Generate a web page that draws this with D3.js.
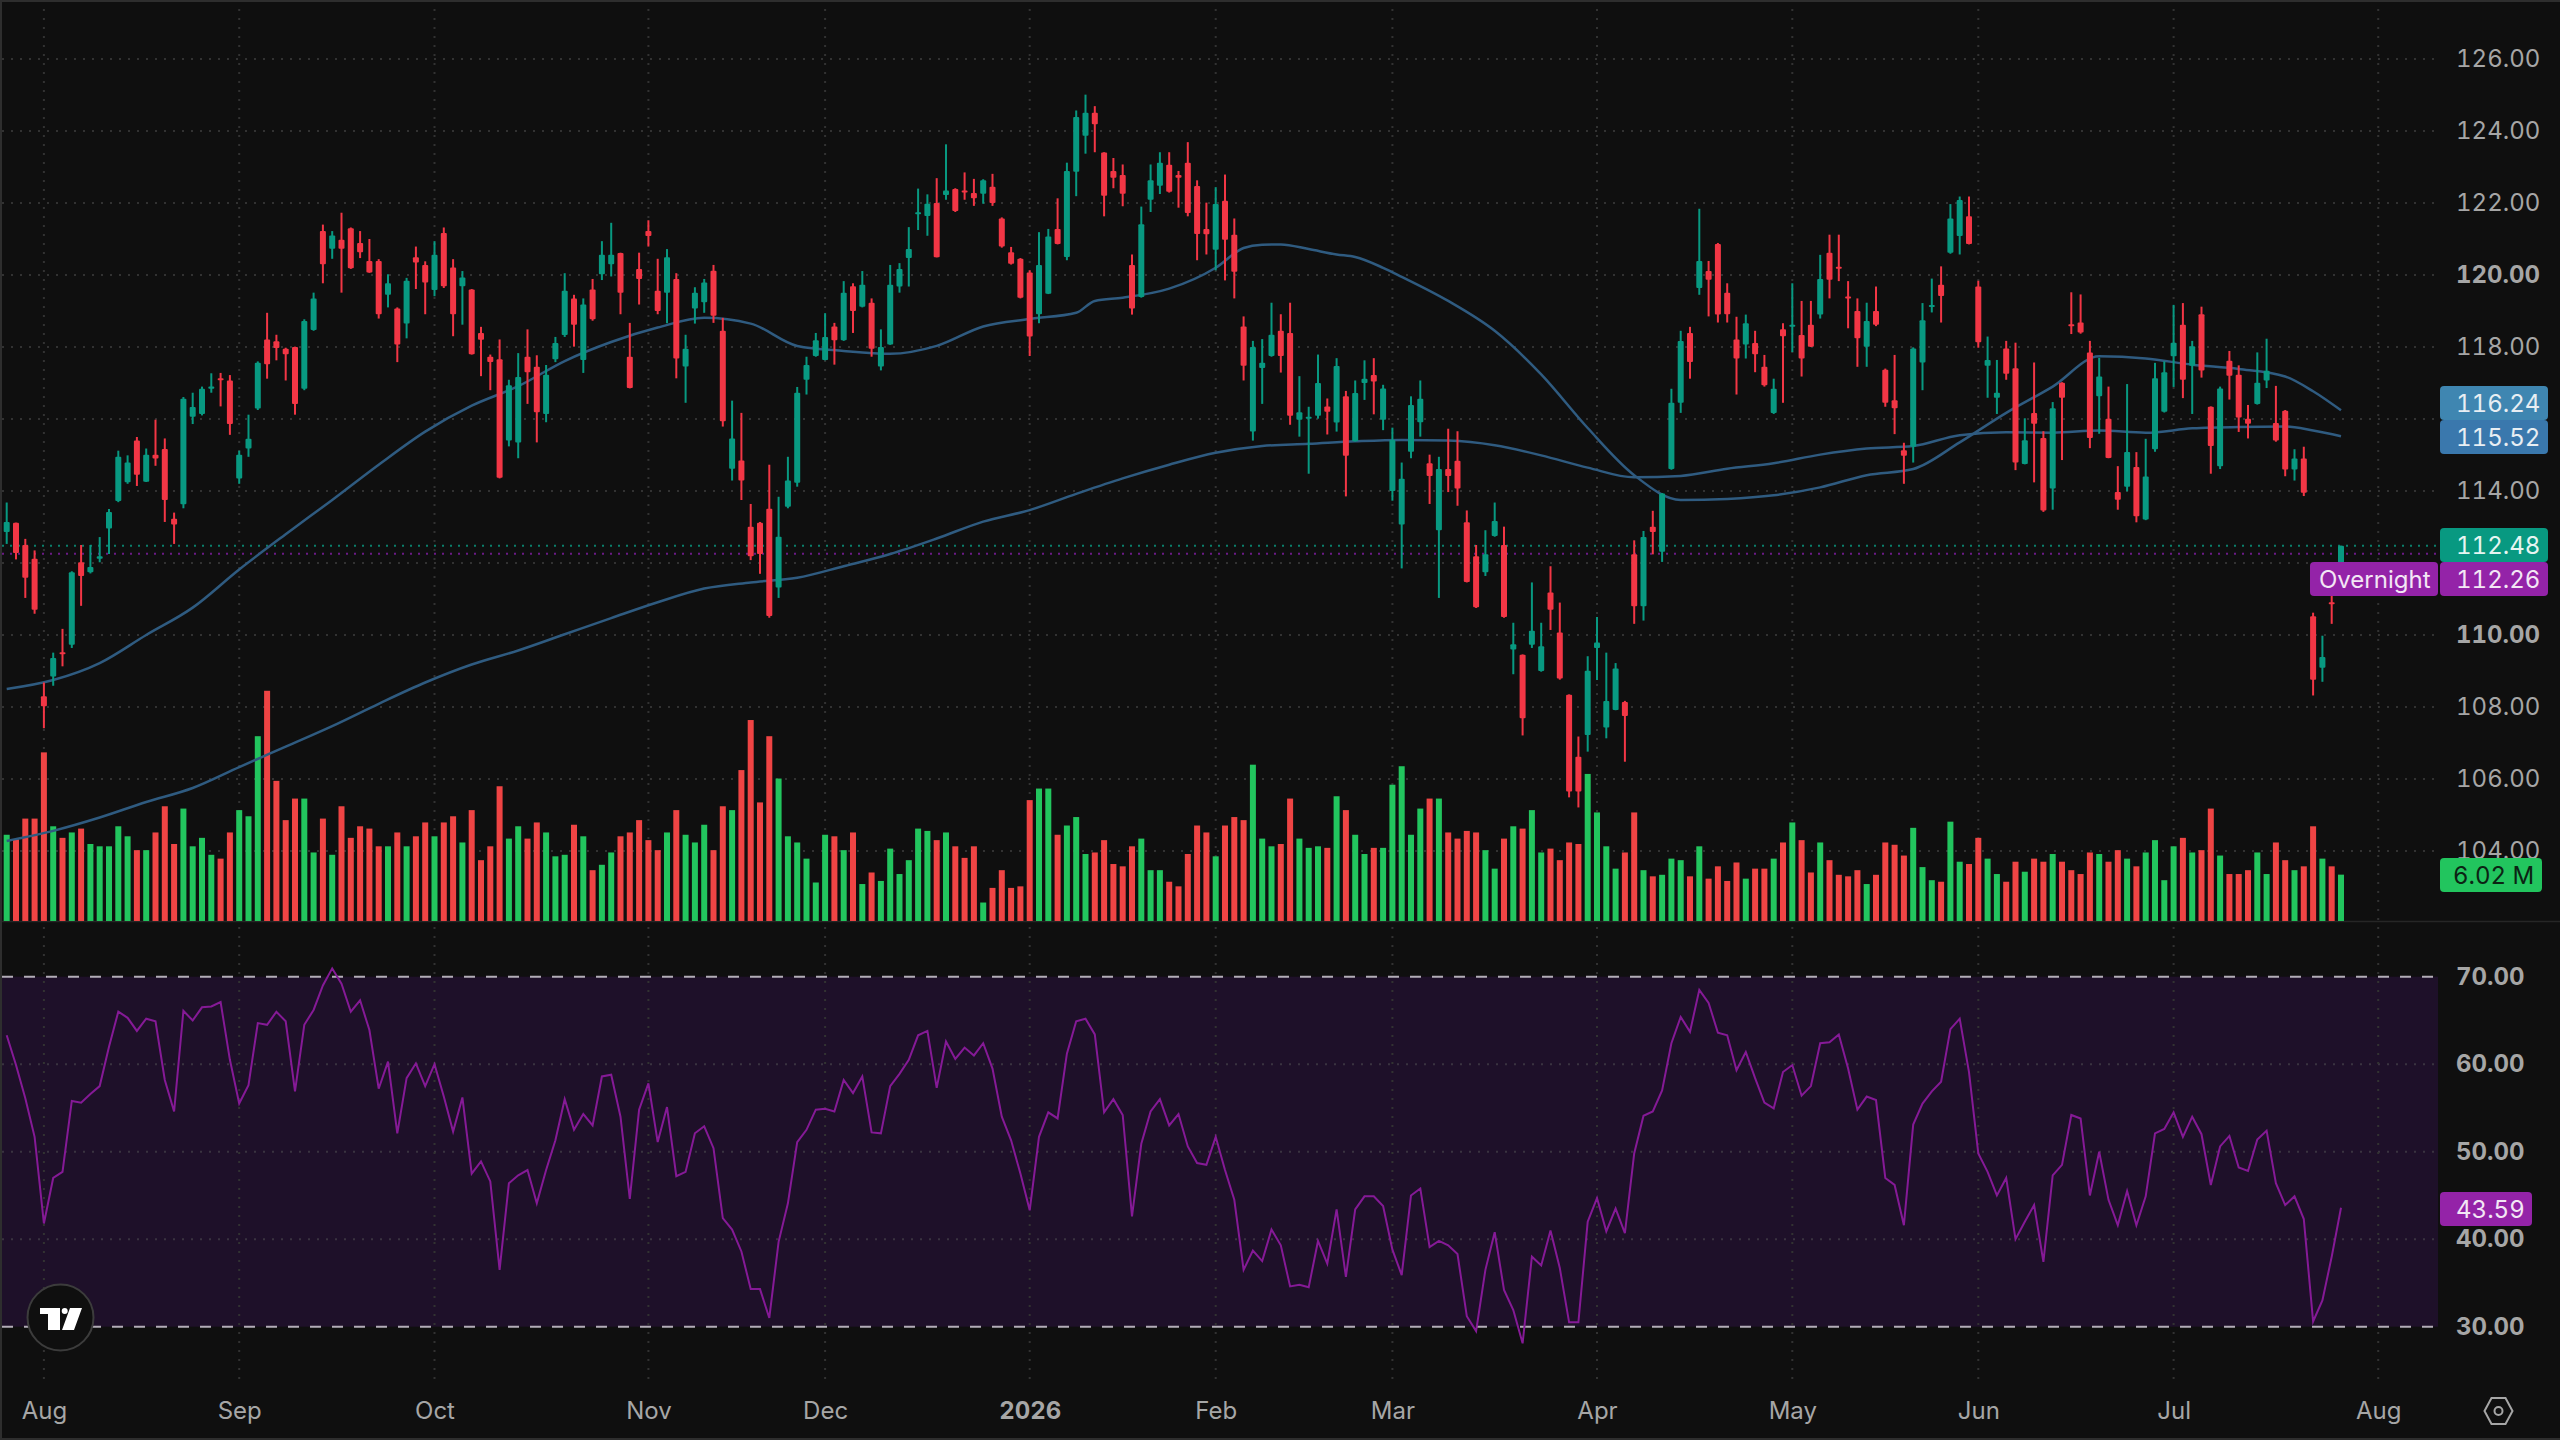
<!DOCTYPE html>
<html>
<head>
<meta charset="utf-8">
<title>Daily candles with volume and RSI</title>
<script src="https://cdn.jsdelivr.net/npm/d3@7"></script>
<style>
  html, body { margin: 0; padding: 0; background: #0f0f0f; }
  svg { display: block; }
  text { font-family: Inter, "Noto Sans", sans-serif; font-feature-settings: "tnum"; font-variant-numeric: tabular-nums; }
</style>
</head>
<body>
<svg id="chart" width="2560" height="1440"></svg>
<script>
// Daily OHLC, one value per session
const opens = [
112.86,113.12,112.50,112.12,108.30,108.85,109.52,109.73,112.02,111.74,
112.12,112.96,113.72,114.24,115.40,114.26,115.01,115.17,113.23,113.63,
116.06,116.14,116.84,117.13,117.07,114.35,115.18,116.29,118.21,118.16,
117.95,118.00,116.84,118.47,121.22,120.73,120.98,121.30,120.89,120.39,
120.39,119.45,119.07,118.65,120.49,120.28,119.58,121.17,120.21,119.69,
119.60,118.39,117.73,117.66,115.40,115.35,117.73,117.45,116.14,117.66,
118.33,119.35,117.64,119.60,120.02,120.30,120.61,117.73,120.17,121.22,
119.56,119.51,119.89,117.46,119.07,119.24,120.12,118.45,114.62,114.85,
113.01,113.12,113.51,111.32,113.56,114.23,117.09,117.75,117.64,118.57,
118.19,119.69,119.12,119.23,117.46,118.07,119.68,120.47,121.70,121.64,
122.00,122.22,122.39,122.35,122.28,122.26,122.45,121.57,120.63,120.45,
120.07,118.91,119.48,121.28,120.50,122.87,123.87,124.51,123.40,122.89,
122.78,120.28,119.39,122.09,122.48,123.06,122.78,123.12,122.47,121.28,
120.70,122.06,121.12,118.57,115.65,117.42,117.75,118.45,118.39,115.98,
116.01,116.09,116.35,115.90,116.63,115.38,117.00,117.22,115.98,114.00,
113.07,115.09,115.91,114.77,112.91,114.61,114.84,113.13,112.19,111.74,
112.75,112.50,109.60,109.45,109.73,109.00,111.18,110.07,108.34,106.62,
107.22,109.64,107.43,107.92,108.14,112.24,110.80,113.01,112.31,114.61,
116.45,118.39,119.64,120.11,120.86,119.51,118.21,118.07,118.11,117.45,
116.17,118.49,118.58,118.33,118.62,118.90,120.62,120.23,119.40,119.00,
118.01,119.00,117.37,116.52,115.13,115.23,117.57,119.12,119.73,120.62,
121.08,121.63,119.68,117.48,116.59,117.96,117.41,114.75,116.17,115.47,
114.07,117.01,118.63,118.68,117.85,116.63,116.01,113.97,114.12,114.67,
113.21,115.16,116.20,117.74,118.62,117.48,118.91,116.34,114.69,117.62,
117.23,116.01,116.42,117.07,115.89,116.23,114.60,114.90,110.52,109.09,
110.91,111.40];

const highs = [
113.68,113.12,112.67,112.35,108.68,109.51,110.17,111.77,112.50,112.50,
112.72,113.50,115.12,114.99,115.50,115.18,115.98,115.46,113.40,116.61,
116.73,116.90,117.27,117.28,117.22,115.12,116.12,117.60,118.95,118.34,
117.98,118.01,118.77,119.51,121.40,121.22,121.73,121.32,121.22,121.00,
120.44,120.02,119.10,119.92,120.79,120.38,120.94,121.32,120.44,120.11,
119.61,118.56,117.79,118.21,117.09,117.83,118.49,117.77,117.50,118.28,
120.05,119.45,119.35,119.89,120.94,121.45,120.62,118.67,120.62,121.52,
120.45,120.72,120.05,118.34,119.66,119.89,120.28,118.81,116.51,116.17,
113.64,113.14,114.73,113.84,114.95,116.89,117.73,118.39,118.94,118.67,
119.83,119.77,120.11,119.35,118.49,120.28,120.33,121.33,122.40,122.24,
122.69,123.63,122.41,122.85,122.67,122.66,122.81,121.60,120.78,120.47,
120.13,121.19,121.28,122.13,123.12,124.57,125.01,124.69,123.41,123.25,
123.07,120.57,121.90,123.07,123.41,123.41,122.89,123.69,122.63,122.01,
122.44,122.79,121.57,118.85,118.17,118.22,119.23,118.91,119.23,117.19,
116.34,117.79,116.57,117.69,116.78,117.07,117.63,117.69,116.95,115.76,
114.79,116.63,117.07,115.01,114.95,115.73,115.66,113.46,112.50,112.91,
113.68,113.01,110.34,109.46,111.46,110.34,111.91,110.90,108.35,107.18,
109.41,110.50,109.51,109.22,108.17,112.63,112.89,113.45,113.94,116.84,
118.45,118.56,121.84,120.39,120.89,119.77,118.84,118.90,118.45,117.78,
117.12,118.66,119.77,119.28,119.28,120.56,121.12,121.12,119.83,119.35,
119.23,119.68,117.40,117.78,115.34,117.99,119.22,119.90,120.24,121.97,
122.18,122.18,119.84,118.29,117.64,118.17,118.12,116.02,117.57,115.66,
116.47,117.02,119.52,119.46,118.17,117.70,116.90,114.69,116.97,115.08,
115.45,117.56,117.60,119.17,119.22,118.17,119.12,116.35,116.90,117.89,
117.49,116.39,117.85,118.23,116.92,116.25,115.16,115.23,110.62,109.98,
111.36,112.48];

const lows = [
112.53,112.10,111.03,110.59,107.41,108.59,109.13,109.64,110.81,111.71,
112.02,112.25,113.69,114.20,114.14,114.25,114.70,113.14,112.53,113.52,
115.86,116.10,116.73,116.35,115.56,114.20,114.95,116.25,117.12,117.63,
117.07,116.12,116.80,118.45,119.77,120.45,119.51,120.17,120.47,120.06,
118.79,119.10,117.58,118.24,119.61,118.91,119.41,119.64,118.30,118.62,
117.79,117.19,116.80,114.35,115.24,114.91,116.42,115.35,115.91,117.58,
118.28,118.01,117.28,118.73,119.86,119.96,118.91,116.85,119.18,120.79,
118.91,118.66,117.13,116.45,118.65,118.95,118.67,115.79,114.29,113.75,
112.08,111.70,110.48,111.03,113.52,114.12,116.68,117.73,117.63,117.51,
118.17,118.39,119.10,117.73,117.35,118.06,119.51,119.68,121.25,121.09,
120.49,122.09,121.75,122.09,121.92,121.98,121.92,120.76,120.29,119.35,
117.75,118.66,119.47,120.85,120.41,122.19,123.37,123.41,121.63,122.41,
121.91,118.90,119.37,121.75,122.25,122.29,121.87,121.63,120.41,120.57,
120.13,119.85,119.35,117.07,115.40,116.42,117.73,117.29,115.84,115.51,
114.48,116.01,115.57,115.65,113.85,115.37,116.53,116.13,115.69,113.73,
111.85,114.91,115.51,113.64,111.03,113.97,113.59,111.46,110.75,111.64,
112.73,110.48,108.91,107.21,109.64,108.98,110.14,108.76,105.49,105.21,
106.76,108.75,107.13,107.91,106.48,110.31,110.40,112.24,112.03,114.59,
116.17,117.12,119.45,118.85,118.68,118.68,116.68,117.68,117.30,116.90,
116.14,116.45,117.86,117.18,118.00,118.79,119.35,119.83,118.52,117.45,
117.45,118.58,116.34,115.58,114.20,114.79,116.80,118.96,118.68,120.59,
120.57,120.85,117.98,116.59,116.14,117.09,114.58,114.74,114.24,113.42,
113.48,114.86,118.36,118.37,115.19,115.59,114.91,113.48,113.99,113.13,
113.19,115.09,116.18,116.89,116.58,116.14,117.15,114.48,114.61,116.54,
115.64,115.46,116.40,116.86,115.37,114.41,114.29,113.86,108.32,108.70,
110.31,111.20];

const closes = [
113.14,112.28,111.59,110.70,108.02,109.36,109.47,111.74,111.64,111.89,
112.19,113.42,114.95,114.79,114.45,115.01,114.90,113.75,113.07,116.56,
116.33,116.84,116.90,117.09,115.86,115.01,115.45,117.56,117.52,117.97,
117.80,116.42,118.72,119.35,120.30,121.10,120.73,120.19,120.63,120.07,
118.91,119.77,118.07,119.84,120.35,119.79,120.56,119.69,118.91,119.93,
117.80,118.20,117.58,114.37,116.94,117.17,117.30,116.19,117.23,118.11,
119.56,118.62,119.18,118.77,120.56,120.56,119.51,116.86,119.89,121.08,
119.00,120.49,117.68,117.95,119.51,119.79,118.87,115.94,115.46,114.29,
112.19,112.25,110.53,112.73,114.29,116.73,117.50,118.19,118.28,118.19,
119.51,119.00,119.73,117.95,118.00,119.73,120.17,120.72,121.74,121.98,
120.49,122.35,121.78,122.32,122.13,122.63,122.00,120.79,120.31,119.37,
118.29,120.28,121.07,120.86,122.89,124.39,124.51,124.19,122.20,122.70,
122.26,119.07,121.41,122.63,123.12,122.31,122.70,121.72,121.14,121.13,
121.97,120.98,120.09,117.48,118.00,117.56,118.34,117.75,116.09,116.19,
116.06,117.00,116.20,117.47,114.98,116.72,117.12,117.04,116.85,115.42,
114.34,116.39,116.56,114.42,114.61,114.42,114.07,111.47,110.77,112.24,
113.17,110.50,109.74,107.69,110.12,109.69,110.70,108.79,105.65,105.65,
109.01,109.79,108.17,109.07,107.75,110.80,112.72,112.86,113.93,116.45,
118.17,117.58,120.39,119.87,118.90,118.91,117.68,118.66,117.80,116.94,
116.84,118.30,118.62,117.68,118.01,119.89,119.87,120.19,119.36,118.24,
118.72,118.62,116.45,116.30,114.98,117.96,118.74,119.17,119.42,121.57,
122.08,120.86,118.13,117.64,116.73,117.26,114.79,115.41,115.87,113.46,
116.30,116.59,118.58,118.40,115.47,117.18,114.92,113.76,115.08,113.30,
114.40,117.13,117.30,118.12,117.09,118.02,117.35,115.25,116.85,117.20,
116.04,115.87,117.01,117.34,115.40,114.60,114.90,113.95,108.76,109.39,
110.86,112.48];

// Session volume in millions and its bar colour (G up, R down)
const volumes = [
11.2,10.6,13.3,13.3,21.9,12.3,10.8,11.5,12.0,10.0,
9.7,9.7,12.3,11.0,9.2,9.2,11.5,14.9,10.0,14.6,
9.7,10.8,8.6,8.1,11.5,14.4,13.6,24.0,29.9,18.2,
13.1,15.9,15.9,8.9,13.3,8.6,14.9,10.8,12.3,12.0,
9.7,9.7,11.5,9.7,11.0,12.8,11.0,12.8,13.6,10.2,
14.4,7.9,9.7,17.5,10.7,12.3,10.7,12.8,11.5,8.4,
8.6,12.5,11.0,6.6,7.3,8.9,11.0,11.5,13.1,10.5,
9.2,11.5,14.4,11.2,10.2,12.5,9.2,14.9,14.4,19.6,
26.1,15.4,24.0,18.5,11.0,10.2,8.1,5.0,11.2,11.0,
9.2,11.5,4.8,6.3,5.2,9.4,6.1,7.9,12.0,11.7,
10.5,11.5,9.7,8.2,9.7,2.4,4.3,6.6,4.3,4.5,
15.7,17.2,17.2,11.2,12.4,13.5,8.7,8.9,10.5,7.4,
7.1,9.7,10.7,6.6,6.6,5.1,4.5,8.7,12.4,11.5,
8.4,12.4,13.5,13.1,20.3,10.7,9.7,10.0,15.9,10.7,
9.5,9.7,9.5,16.2,14.4,11.2,8.7,9.5,9.5,17.7,
20.1,11.2,14.6,15.9,15.9,11.5,10.7,11.7,11.5,9.2,
6.8,10.7,12.3,12.0,14.4,8.9,9.4,7.9,10.2,10.0,
19.1,14.1,9.7,6.8,8.9,14.1,6.6,5.8,6.0,8.1,
7.9,5.8,9.7,5.5,7.1,5.2,7.6,5.5,6.8,6.8,
8.1,10.2,12.8,10.5,6.3,10.2,7.9,6.0,5.8,6.6,
4.8,6.0,10.2,9.9,8.5,12.1,7.0,5.3,5.1,12.9,
7.7,7.4,10.8,8.1,6.1,5.1,7.7,6.4,8.1,7.7,
8.7,7.7,6.6,6.1,8.9,8.7,7.7,9.2,8.1,7.1,
8.9,10.5,5.3,9.7,10.8,8.9,9.2,14.6,8.5,6.1,
6.1,6.6,8.9,6.1,10.2,7.9,6.6,7.1,12.3,8.1,
7.1,6.02];

const volumeDirections =
  "GRRRRGRGRG" + "GGGGRGRRRG" + "GGGRRGGGRR" + "RRGGRGRRRR" + "RGRGRRGRRG" +
  "RRRRGGRRGG" + "GRGRGGRRRR" + "RGRGGGRRGR" + "RRRGGGGGGR" + "GRGRGGGGGG" +
  "RGRRRGRRRR" + "RGGRGGGRRR" + "RRGGGRRRRR" + "GRRRGGGRRG" + "GGRGRGGRGG" +
  "GGGRGRRRRG" + "GRGRGGRRRR" + "GGGGRRGRGG" + "GRGRRRRGRR" + "GRGRRGRRRR" +
  "GRRRRGGGRG" + "GRRGGRRGRR" + "GRRRRGRRGR" + "GGGGRGRRGR" + "RRGGRRGRRG" + "RG";

// Relative strength index per session
const rsiValues = [
63.3,59.9,56.1,51.7,41.8,47.0,47.7,55.8,55.6,56.6,
57.5,62.0,66.0,65.3,63.8,65.2,64.9,58.2,54.6,66.1,
65.0,66.5,66.6,67.1,60.5,55.5,57.6,64.7,64.5,66.0,
64.9,56.9,64.5,66.2,69.0,70.95,69.2,66.0,67.3,63.9,
57.2,60.3,52.1,58.4,60.1,57.5,60.0,56.3,52.3,56.2,
47.5,48.9,46.6,36.5,46.4,47.3,47.9,44.1,47.9,51.3,
56.0,52.5,54.3,53.0,58.6,58.8,54.0,44.6,54.8,57.8,
51.1,55.1,47.2,47.7,52.1,52.9,50.4,42.4,41.1,38.6,
34.3,34.3,31.0,39.7,44.1,51.1,52.5,54.8,54.9,54.6,
58.2,56.7,58.6,52.2,52.1,57.5,58.9,60.5,63.3,63.8,
57.3,62.6,60.6,61.9,61.0,62.4,59.5,54.0,51.3,47.5,
43.3,51.7,54.5,53.8,61.2,64.9,65.2,63.4,54.5,56.0,
54.2,42.6,50.9,54.6,56.0,53.0,54.3,50.6,48.7,48.5,
51.7,47.9,44.5,36.5,38.7,37.5,41.1,39.3,34.6,34.8,
34.5,39.8,37.2,43.4,35.7,43.4,44.9,44.9,43.8,38.8,
35.9,45.0,45.8,39.1,39.8,39.3,38.3,31.2,29.5,36.5,
40.8,34.2,31.9,28.1,38.0,37.0,41.0,36.7,30.5,30.5,
42.0,44.7,40.9,43.5,40.7,49.8,54.1,54.6,57.0,62.4,
65.4,63.7,68.5,67.0,63.6,63.3,59.3,61.4,58.4,55.6,
54.95,59.1,59.9,56.4,57.5,62.4,62.5,63.4,59.5,54.8,
56.3,55.9,47.0,46.2,41.6,53.1,55.5,56.9,58.0,64.0,
65.2,59.1,49.8,47.7,45.0,47.0,40.0,42.0,43.9,37.4,
47.3,48.5,54.2,53.8,45.0,50.0,44.5,41.6,45.5,41.6,
44.9,52.1,52.6,54.5,51.7,54.0,52.0,46.2,50.6,51.8,
48.2,47.8,51.4,52.4,46.4,43.9,44.9,42.3,30.6,33.0,
38.0,43.59];

// Moving averages, sampled at the listed session numbers
const fastIndex = [0,5,10,15,20,25,30,35,40,45,50,55,60,65,70,75,80,85,90,95,100,105,110,115,117,120,125,130,133,135,137,140,143,145,148,150,155,160,165,170,175,180,185,190,195,200,205,210,215,220,225,230,235,240,245,248,251];
const fastAverage = [108.50,108.75,109.22,110.00,110.76,111.82,112.80,113.75,114.73,115.65,116.37,116.91,117.61,118.14,118.54,118.81,118.65,118.03,117.89,117.81,118.03,118.57,118.78,118.95,119.28,119.37,119.62,120.20,120.75,120.84,120.85,120.72,120.57,120.50,120.20,119.95,119.28,118.45,117.24,115.75,114.44,113.75,113.78,113.88,114.10,114.44,114.61,115.35,116.17,116.90,117.74,117.68,117.51,117.39,117.18,116.77,116.24];
const slowIndex = [0,5,10,15,20,25,30,35,40,45,50,55,60,65,70,75,80,85,90,95,100,105,110,115,120,125,130,135,140,145,150,155,160,165,170,175,180,185,190,195,200,205,210,215,220,225,230,235,240,245,248,251];
const slowAverage = [104.28,104.56,104.93,105.36,105.75,106.33,106.90,107.47,108.09,108.68,109.18,109.57,110.02,110.47,110.91,111.29,111.46,111.59,111.91,112.25,112.68,113.15,113.47,113.92,114.35,114.73,115.06,115.25,115.31,115.38,115.42,115.40,115.27,114.99,114.65,114.38,114.42,114.62,114.77,115.01,115.18,115.25,115.55,115.63,115.62,115.68,115.62,115.74,115.78,115.79,115.68,115.52];

// Axis ticks and labels
const priceTicks = [104,106,108,110,112,114,116,118,120,122,124,126];
const priceLabelTicks = [104,106,108,110,114,118,120,122,124,126];
const rsiTicks = [30,40,50,60,70];
const monthIndex = [4,25,46,69,88,110,130,149,171,192,212,233,255];
const monthLabels = ["Aug","Sep","Oct","Nov","Dec","2026","Feb","Mar","Apr","May","Jun","Jul","Aug"];

const overnightPrice = 112.26;
const sessionClose = closes[closes.length - 1];

const plotRight = 2438;
const labelLeft = 2456;
const gridColor = "#323232";
const axisColor = "#a6a6a6";
const upColor = "#089981", downColor = "#f23645";
const volUp = "#22c55e", volDown = "#ef4444";
const maColor = "#2f5b80";

const x = d3.scaleLinear().domain([0, 251]).range([6.7, 2341]);
const y = d3.scaleLinear().domain([104, 126]).range([851, 59]);
const yVol = d3.scaleLinear().domain([0, 10]).range([921, 844]);
const yRsi = d3.scaleLinear().domain([30, 70]).range([1326.7, 976.7]);

const svg = d3.select("#chart");
svg.append("rect").attr("width", 2560).attr("height", 1440).attr("fill", "#0f0f0f");

// RSI band
svg.append("rect")
  .attr("x", 0).attr("width", plotRight)
  .attr("y", yRsi(70)).attr("height", yRsi(30) - yRsi(70))
  .attr("fill", "#1e1029");

// Grid
const grid = svg.append("g").attr("stroke", gridColor).attr("stroke-width", 2).attr("stroke-dasharray", "2 7");
grid.selectAll(".h").data(priceTicks).join("line")
  .attr("x1", 2).attr("x2", plotRight).attr("y1", d => y(d)).attr("y2", d => y(d));
grid.selectAll(".r").data(rsiTicks.filter(d => d !== 30 && d !== 70)).join("line")
  .attr("class", "r").attr("stroke", "#3a3340")
  .attr("x1", 2).attr("x2", plotRight).attr("y1", d => yRsi(d)).attr("y2", d => yRsi(d));
grid.selectAll(".v").data(monthIndex).join("line")
  .attr("class", "v")
  .attr("x1", d => x(d)).attr("x2", d => x(d)).attr("y1", 0).attr("y2", 1380);

// Pane separator
svg.append("line").attr("x1", 0).attr("x2", 2560).attr("y1", 921.5).attr("y2", 921.5)
  .attr("stroke", "#262626").attr("stroke-width", 1.5);

// Volume
const bars = d3.range(closes.length);
svg.append("g").selectAll("rect").data(bars).join("rect")
  .attr("x", i => x(i) - 3).attr("width", 6)
  .attr("y", i => yVol(volumes[i]))
  .attr("height", i => yVol(0) - yVol(volumes[i]))
  .attr("fill", i => volumeDirections[i] === "G" ? volUp : volDown);

// Last and overnight price lines
svg.append("line").attr("x1", 2).attr("x2", plotRight)
  .attr("y1", y(sessionClose)).attr("y2", y(sessionClose))
  .attr("stroke", "#0b7f6b").attr("stroke-width", 2).attr("stroke-dasharray", "2 6");
svg.append("line").attr("x1", 2).attr("x2", plotRight)
  .attr("y1", y(overnightPrice)).attr("y2", y(overnightPrice))
  .attr("stroke", "#6b1b86").attr("stroke-width", 2).attr("stroke-dasharray", "2 6");

// Moving averages
const maLine = d3.line().x(d => x(d[0])).y(d => y(d[1])).curve(d3.curveMonotoneX);
[[fastIndex, fastAverage], [slowIndex, slowAverage]].forEach(([idx, vals]) => {
  svg.append("path").datum(idx.map((k, j) => [k, vals[j]]))
    .attr("d", maLine).attr("fill", "none")
    .attr("stroke", maColor).attr("stroke-width", 2.5);
});

// Candles
const candles = svg.append("g").selectAll("g").data(bars).join("g")
  .attr("fill", i => closes[i] >= opens[i] ? upColor : downColor);
candles.append("rect")
  .attr("x", i => x(i) - 1).attr("width", 2)
  .attr("y", i => y(highs[i]))
  .attr("height", i => y(lows[i]) - y(highs[i]));
candles.append("rect")
  .attr("x", i => x(i) - 3).attr("width", 6).attr("rx", 1)
  .attr("y", i => y(Math.max(opens[i], closes[i])))
  .attr("height", i => Math.max(2, Math.abs(y(opens[i]) - y(closes[i]))));

// RSI limits and line
svg.selectAll(".limit").data([70, 30]).join("line")
  .attr("class", "limit")
  .attr("x1", 2).attr("x2", plotRight)
  .attr("y1", d => yRsi(d)).attr("y2", d => yRsi(d))
  .attr("stroke", "#b3adb8").attr("stroke-width", 2).attr("stroke-dasharray", "11 11");
svg.append("path").datum(rsiValues)
  .attr("d", d3.line().x((d, i) => x(i)).y(d => yRsi(d)))
  .attr("fill", "none").attr("stroke", "#851a96").attr("stroke-width", 2);

// Price axis labels; 112 and 116 sit under the value tags
const labelWeight = d => d % 10 === 0 ? 700 : 400;
const priceAxis = d3.axisRight(y).tickValues(priceLabelTicks).tickSize(0).tickPadding(0).tickFormat(d3.format(".2f"));
const priceG = svg.append("g").attr("transform", `translate(${labelLeft},0)`).call(priceAxis);
const rsiAxis = d3.axisRight(yRsi).tickValues(rsiTicks).tickSize(0).tickPadding(0).tickFormat(d3.format(".2f"));
const rsiG = svg.append("g").attr("transform", `translate(${labelLeft},0)`).call(rsiAxis);
[priceG, rsiG].forEach(g => {
  g.select(".domain").remove();
  g.selectAll("text")
    .attr("font-family", "Inter").attr("font-size", 24)
    .attr("fill", axisColor)
    .attr("font-weight", labelWeight);
});

// Time axis labels
const monthAxis = d3.axisBottom(x).tickValues(monthIndex).tickSize(0).tickPadding(0)
  .tickFormat((d, i) => monthLabels[i]);
const monthG = svg.append("g").attr("transform", "translate(0,1402)").call(monthAxis);
monthG.select(".domain").remove();
monthG.selectAll("text")
  .attr("font-family", "Inter").attr("font-size", 24)
  .attr("fill", axisColor)
  .attr("font-weight", (d, i) => monthLabels[i] === "2026" ? 700 : 400);

// Value tags on the price scale
function tag(left, width, top, height, fill, label, textFill, textX) {
  svg.append("rect").attr("x", left).attr("y", top).attr("width", width).attr("height", height)
    .attr("rx", 4).attr("fill", fill);
  svg.append("text").attr("x", textX).attr("y", top + height / 2)
    .attr("dy", "0.36em").attr("font-size", 24).attr("fill", textFill).text(label);
}
const fastLast = fastAverage[fastAverage.length - 1];
const slowLast = slowAverage[slowAverage.length - 1];
const rsiLast = rsiValues[rsiValues.length - 1];
const volumeLast = volumes[volumes.length - 1];
tag(2440, 108, 386, 34, "#3f86b1", fastLast.toFixed(2), "#e8eef3", labelLeft);
tag(2440, 108, 420, 34, "#3a78ad", slowLast.toFixed(2), "#e8eef3", labelLeft);
tag(2440, 108, 528, 34, "#089981", sessionClose.toFixed(2), "#e6f5f1", labelLeft);
tag(2440, 108, 562, 34, "#9423a8", overnightPrice.toFixed(2), "#f3e6f5", labelLeft);
tag(2310, 128, 562, 34, "#9423a8", "Overnight", "#f3e6f5", 2319);
tag(2440, 102, 858, 34, "#22c55e", volumeLast.toFixed(2) + " M", "#0c2414", 2453);
tag(2440, 92, 1192, 34, "#9423a8", rsiLast.toFixed(2), "#f3e6f5", labelLeft);

// Logo badge
const badge = svg.append("g").attr("transform", "translate(60.5,1317.5)");
badge.append("circle").attr("r", 33).attr("fill", "#0f0f0f").attr("stroke", "#3c3c3c").attr("stroke-width", 2);
badge.append("path").attr("fill", "#ffffff")
  .attr("d", "M-20.5 -9.5H-0.5V12.5H-12.5V-3.5H-20.5Z M9.5 -9.5H21.5L13.5 12.5H1.5Z M4.2 -3.5a3 3 0 1 0 0-6a3 3 0 0 0 0 6Z");

// Settings glyph
const gear = svg.append("g").attr("transform", "translate(2498.5,1411)")
  .attr("fill", "none").attr("stroke", "#a6a6a6").attr("stroke-width", 2);
gear.append("path").attr("d", "M-14 0L-7 -13H7L14 0L7 13H-7Z");
gear.append("circle").attr("r", 4);

// Frame
svg.append("path").attr("d", "M1 1440V1H2560M0 1439H2560").attr("fill", "none")
  .attr("stroke", "#2e2e2e").attr("stroke-width", 2);
</script>
</body>
</html>
